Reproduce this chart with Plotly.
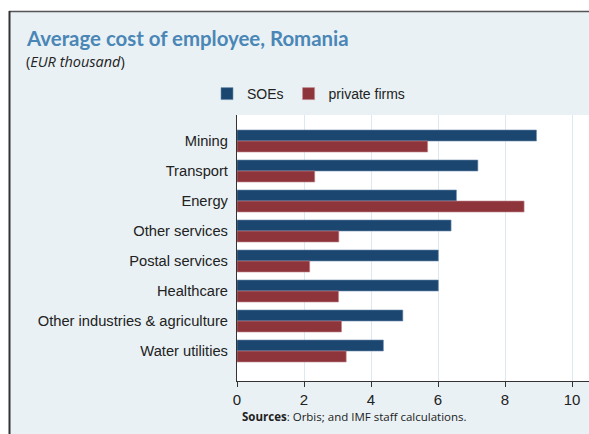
import plotly.graph_objects as go

categories = ["Mining", "Transport", "Energy", "Other services", "Postal services",
              "Healthcare", "Other industries & agriculture", "Water utilities"]
soes = [8.94, 7.19, 6.55, 6.39, 6.01, 6.01, 4.95, 4.37]
private_firms = [5.69, 2.32, 8.57, 3.04, 2.17, 3.03, 3.12, 3.26]
x_ticks = [0, 2, 4, 6, 8, 10]

W, H = 589, 434
L, T, B, R = 237, 115, 53, 0
PW, PH = W - L - R, H - T - B


def px(x):
    return (x - L) / PW


def py(y):
    return (H - B - y) / PH


fig = go.Figure()
fig.add_trace(go.Bar(y=categories, x=soes, orientation="h", name="SOEs",
                     marker=dict(color="#1B4670", line=dict(color="#6F8FAE", width=0.6))))
fig.add_trace(go.Bar(y=categories, x=private_firms, orientation="h", name="private firms",
                     marker=dict(color="#8E343B", line=dict(color="#C08A8E", width=0.6))))

bg = "#E9F1F4"
shapes = [
    dict(type="rect", xref="paper", yref="paper", x0=px(-5), x1=px(700), y0=py(11), y1=py(-10),
         fillcolor="white", line=dict(width=0), layer="above"),
    dict(type="rect", xref="paper", yref="paper", x0=px(-10), x1=px(9), y0=py(500), y1=py(-10),
         fillcolor="white", line=dict(width=0), layer="above"),
    dict(type="line", xref="paper", yref="paper", x0=px(9), x1=px(700), y0=py(11.5), y1=py(11.5),
         line=dict(color="#555555", width=1.5), layer="above"),
    dict(type="line", xref="paper", yref="paper", x0=px(9.5), x1=px(9.5), y0=py(11), y1=py(500),
         line=dict(color="#333333", width=2), layer="above"),
]

annotations = [
    dict(text="Average cost of employee, Romania", xref="paper", yref="paper",
         x=px(24), y=py(38), xanchor="left", yanchor="middle", showarrow=False,
         font=dict(family="Lato", size=20.4, weight=700, color="#4A86B6")),
    dict(text="(<i>EUR thousand</i>)", xref="paper", yref="paper",
         x=px(24), y=py(62), xanchor="left", yanchor="middle", showarrow=False,
         font=dict(family="Open Sans", size=14.5, color="#222222")),
    dict(text="<b>Sources</b>: Orbis; and IMF staff calculations.", xref="paper", yref="paper",
         x=px(240), y=py(416), xanchor="left", yanchor="middle", showarrow=False,
         font=dict(family="Open Sans", size=11.5, color="#222222")),
]

fig.update_layout(
    width=W, height=H,
    margin=dict(l=L, r=R, t=T, b=B, pad=0),
    paper_bgcolor=bg, plot_bgcolor="white",
    barmode="group", bargap=0.267, bargroupgap=0,
    shapes=shapes, annotations=annotations,
    showlegend=True,
    legend=dict(orientation="h", x=px(207), y=py(94), xanchor="left", yanchor="middle",
                bgcolor="rgba(0,0,0,0)", font=dict(family="Liberation Sans", size=14, color="#222222"),
                traceorder="normal"),
    font=dict(family="Liberation Sans", color="#222222"),
)
fig.update_xaxes(range=[0, PW / 33.5], tickvals=x_ticks, ticks="outside", ticklen=5,
                 tickcolor="#333333", showline=True, linecolor="#333333", linewidth=1.2,
                 showgrid=True, gridcolor="#DCE9F0", gridwidth=1, zeroline=False,
                 tickfont=dict(family="Liberation Sans", size=15, color="#222222"))
fig.update_yaxes(range=[7 + 1.0, -0.867], showline=True, linecolor="#333333", linewidth=1.2,
                 ticks="", showgrid=False, zeroline=False, ticklabelstandoff=5,
                 tickfont=dict(family="Liberation Sans", size=14.7, color="#222222"))

fig.write_html("out.html", config={"displayModeBar": False},
               post_script="document.body.style.margin='0';document.body.style.overflow='hidden';")
